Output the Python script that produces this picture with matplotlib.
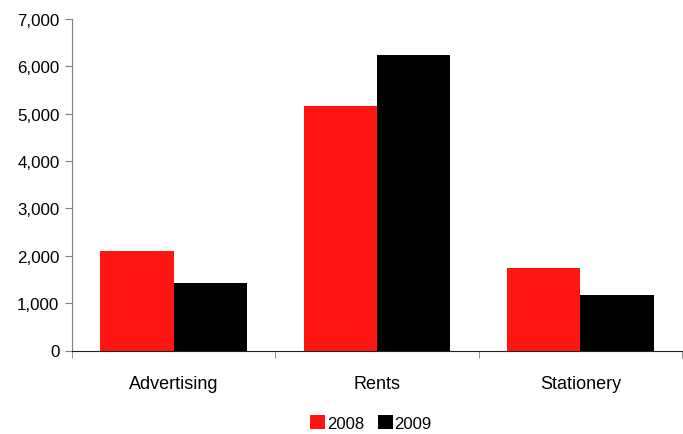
import numpy as np
import matplotlib
matplotlib.use('Agg')
import matplotlib.pyplot as plt
from matplotlib.ticker import FuncFormatter

# expense categories and yearly values
categories = ['Advertising', 'Rents', 'Stationery']
years = ['2008', '2009']
values_2008 = [2095, 5160, 1740]
values_2009 = [1425, 6240, 1170]

plt.rcParams['font.family'] = ['Liberation Sans', 'DejaVu Sans']

fig = plt.figure(figsize=(6.83, 4.35), dpi=100)
ax = fig.add_axes([72/683, 1 - 351.5/435, 610/683, 331.5/435])

x = np.arange(len(categories))
w = 0.36
ax.bar(x - w/2, values_2008, w, color='#FF1512', label=years[0])
ax.bar(x + w/2, values_2009, w, color='#000000', label=years[1])

ax.set_xlim(-0.5, len(categories) - 0.5)
ax.set_ylim(0, 7000)
ax.set_yticks(range(0, 7001, 1000))
ax.yaxis.set_major_formatter(FuncFormatter(lambda v, p: f'{int(v):,}'))

ax.set_xticks(x)
ax.set_xticklabels(categories)
ax.set_xticks(np.arange(-0.5, len(categories), 1), minor=True)
ax.tick_params(axis='x', which='major', length=0, pad=18, labelsize=13)
ax.tick_params(axis='x', which='minor', length=5, color='#808080', direction='out')
ax.tick_params(axis='y', length=5, color='#808080', labelsize=12.2, pad=4)

for s in ['top', 'right']:
    ax.spines[s].set_visible(False)
ax.spines['left'].set_color('#808080')
ax.spines['bottom'].set_color('#222222')

fig.legend(loc='center', bbox_to_anchor=(371/683, 1 - 424/435), ncol=2,
           frameon=False, fontsize=12, handlelength=0.9, handleheight=0.9,
           handletextpad=0.1, columnspacing=0.8)

fig.savefig('out.png', dpi=100)
